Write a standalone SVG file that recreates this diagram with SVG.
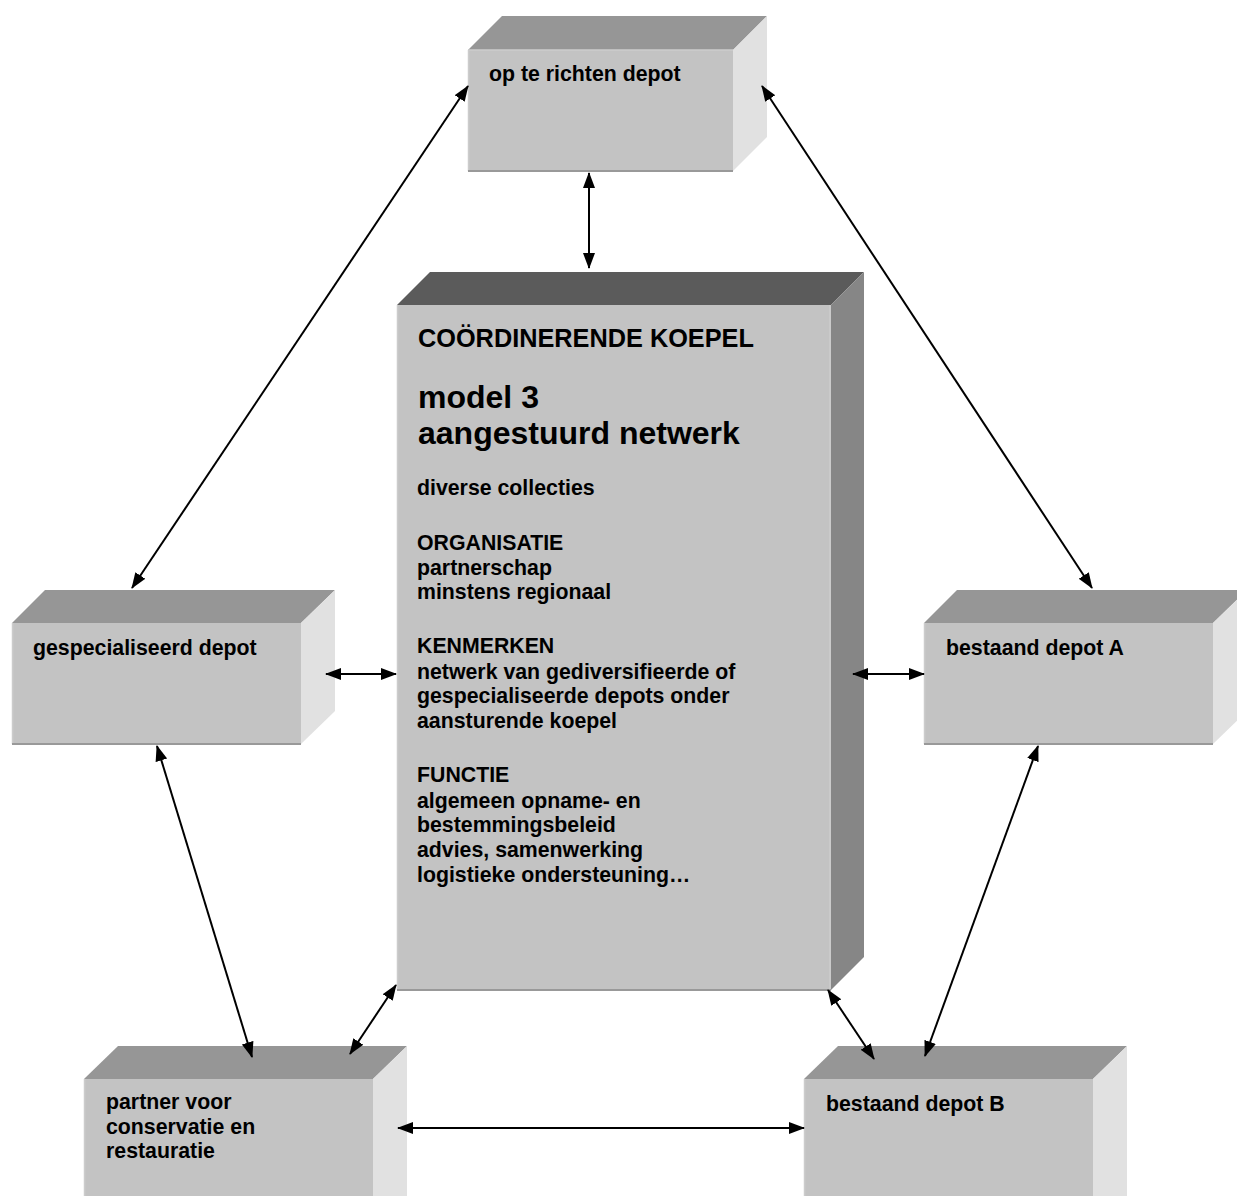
<svg xmlns="http://www.w3.org/2000/svg" width="1237" height="1196" viewBox="0 0 1237 1196">
<defs>
<style>
.front{fill:#c3c3c3;}
.top{fill:#969696;}
.side{fill:#e1e1e1;}
.ctop{fill:#5b5b5b;}
.cside{fill:#868686;}
.edge{stroke:#999999;stroke-width:2;fill:none;}
.ledge{stroke:#cccccc;stroke-width:1.5;fill:none;}
text{font-family:"Liberation Sans",Arial,sans-serif;font-weight:bold;fill:#000;}
.s{font-size:21.3px;}
.t1{font-size:25.3px;}
.t2{font-size:32px;}
.conn line{stroke:#000;stroke-width:2;marker-start:url(#ah);marker-end:url(#ah);}
</style>
<marker id="ah" markerUnits="userSpaceOnUse" markerWidth="16" markerHeight="14" viewBox="0 0 16 14" refX="15" refY="7" orient="auto-start-reverse">
<path d="M0,1 L16,7 L0,13 z" fill="#000"/>
</marker>
</defs>
<rect width="1237" height="1196" fill="#ffffff"/>

<g id="node-top">
<polygon class="top" points="468,50 502,16 767,16 733,50"/>
<polygon class="side" points="733,50 767,16 767,137 733,171"/>
<rect class="front" x="468" y="50" width="265" height="121"/>
<line class="ledge" x1="468" y1="50" x2="733" y2="50"/>
<line class="ledge" x1="468.5" y1="50" x2="468.5" y2="171"/>
<line class="edge" x1="468" y1="171" x2="733" y2="171"/>
<text class="s" x="489" y="81">op te richten depot</text>
</g>

<g id="node-center">
<polygon class="ctop" points="397,305 430,272 864,272 831,305"/>
<polygon class="cside" points="831,305 864,272 864,957 831,990"/>
<rect class="front" x="397" y="305" width="434" height="685"/>
<line class="ledge" x1="397.5" y1="305" x2="397.5" y2="990"/>
<line class="ledge" x1="830" y1="305" x2="830" y2="990"/>
<line class="edge" x1="397" y1="990" x2="831" y2="990"/>
<text class="t1" x="418" y="347">COÖRDINERENDE KOEPEL</text>
<text class="t2" x="418" y="408">model 3</text>
<text class="t2" x="418" y="444">aangestuurd netwerk</text>
<text class="s" x="417" y="495">diverse collecties</text>
<text class="s" x="417" y="550">ORGANISATIE</text>
<text class="s" x="417" y="575">partnerschap</text>
<text class="s" x="417" y="599">minstens regionaal</text>
<text class="s" x="417" y="653">KENMERKEN</text>
<text class="s" x="417" y="679">netwerk van gediversifieerde of</text>
<text class="s" x="417" y="703">gespecialiseerde depots onder</text>
<text class="s" x="417" y="728">aansturende koepel</text>
<text class="s" x="417" y="782">FUNCTIE</text>
<text class="s" x="417" y="808">algemeen opname- en</text>
<text class="s" x="417" y="832">bestemmingsbeleid</text>
<text class="s" x="417" y="857">advies, samenwerking</text>
<text class="s" x="417" y="882">logistieke ondersteuning…</text>
</g>

<g id="node-gespecialiseerd">
<polygon class="top" points="12,623 45,590 335,590 301,623"/>
<polygon class="side" points="301,623 335,590 335,711 301,744"/>
<rect class="front" x="12" y="623" width="289" height="121"/>
<line class="ledge" x1="12.5" y1="623" x2="12.5" y2="744"/>
<line class="edge" x1="12" y1="744" x2="301" y2="744"/>
<text class="s" x="33" y="655">gespecialiseerd depot</text>
</g>

<g id="node-depotA">
<polygon class="top" points="924,623 957,590 1247,590 1213,623"/>
<polygon class="side" points="1213,623 1247,590 1247,711 1213,744"/>
<rect class="front" x="924" y="623" width="289" height="121"/>
<line class="ledge" x1="924.5" y1="623" x2="924.5" y2="744"/>
<line class="edge" x1="924" y1="744" x2="1213" y2="744"/>
<text class="s" x="946" y="655">bestaand depot A</text>
</g>

<g id="node-partner">
<polygon class="top" points="84,1079 118,1046 407,1046 373,1079"/>
<polygon class="side" points="373,1079 407,1046 407,1200 373,1200"/>
<rect class="front" x="84" y="1079" width="289" height="125"/>
<line class="ledge" x1="84.5" y1="1079" x2="84.5" y2="1200"/>
<text class="s" x="106" y="1109">partner voor</text>
<text class="s" x="106" y="1134">conservatie en</text>
<text class="s" x="106" y="1158">restauratie</text>
</g>

<g id="node-depotB">
<polygon class="top" points="804,1079 838,1046 1127,1046 1093,1079"/>
<polygon class="side" points="1093,1079 1127,1046 1127,1200 1093,1200"/>
<rect class="front" x="804" y="1079" width="289" height="125"/>
<line class="ledge" x1="804.5" y1="1079" x2="804.5" y2="1200"/>
<text class="s" x="826" y="1111">bestaand depot B</text>
</g>

<g id="connectors" class="conn">
<line x1="468" y1="86" x2="132" y2="588"/>
<line x1="762" y1="86" x2="1092" y2="588"/>
<line x1="589" y1="173" x2="589" y2="268"/>
<line x1="326" y1="674" x2="396" y2="674"/>
<line x1="853" y1="674" x2="924" y2="674"/>
<line x1="157" y1="746" x2="252" y2="1057"/>
<line x1="1038" y1="746" x2="925" y2="1056"/>
<line x1="396" y1="985" x2="350" y2="1054"/>
<line x1="828" y1="990" x2="874" y2="1059"/>
<line x1="398" y1="1128" x2="804" y2="1128"/>
</g>
</svg>
